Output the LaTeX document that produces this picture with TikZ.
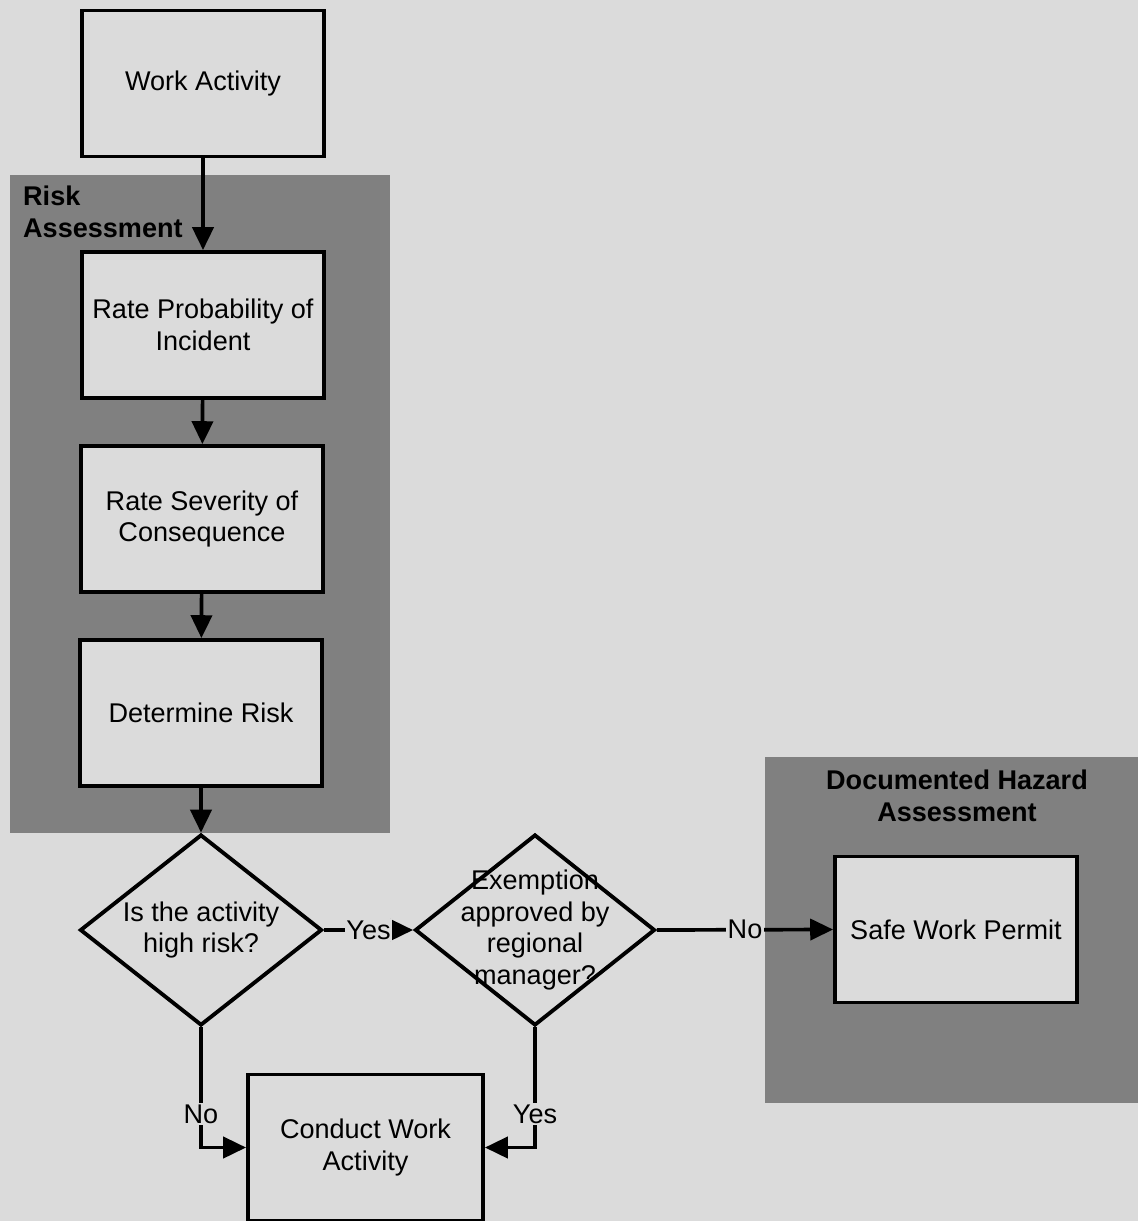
\documentclass[tikz,border=0pt]{standalone}
\usepackage{fontspec}
\setmainfont{Liberation Sans}
\usetikzlibrary{shapes.geometric,arrows.meta}

\definecolor{paper}{gray}{0.86}
\definecolor{panel}{gray}{0.5}

\begin{document}
\begin{tikzpicture}
	\tikzstyle{every node}=[font=\fontsize{15.4}{18}\selectfont]
	\tikzstyle{stepbox}=[draw,rectangle,line width=2.2pt,fill=paper,minimum width=4.84cm,minimum height=2.92cm,align=center]
	\tikzstyle{decision}=[draw,diamond,line width=2.2pt,fill=paper,minimum width=4.84cm,minimum height=3.82cm,inner sep=0pt]
	\tikzstyle{flow}=[line width=2.1pt,-{Triangle[length=13pt,width=12pt]}]
	\tikzstyle{answer}=[fill=paper,inner sep=1pt]
	\tikzstyle{grouptitle}=[font=\fontsize{15.4}{18}\selectfont\bfseries]

	\fill[paper] (0,0) rectangle (22.76,-24.42);
	\useasboundingbox (0,0) rectangle (22.76,-24.42);

	% shaded groups
	\fill[panel] (0.2,-3.5) rectangle (7.8,-16.66);
	\fill[panel] (15.3,-15.14) rectangle (22.76,-22.06);
	\node[grouptitle,anchor=north west,align=left] (risktitle) at (0.34,-3.6) {Risk\\Assessment};
	\node[grouptitle,anchor=north,align=center] (hazardtitle) at (19.14,-15.28) {Documented Hazard\\Assessment};

	% boxes
	\node[stepbox] (work) at (4.06,-1.67) {Work Activity};
	\node[stepbox] (prob) at (4.06,-6.5) {Rate Probability of\\Incident};
	\node[stepbox] (sev) at (4.04,-10.38) {Rate Severity of\\Consequence};
	\node[stepbox] (det) at (4.02,-14.26) {Determine Risk};
	\node[decision,label={[align=center]center:{Is the activity\\high risk?}}] (highrisk) at (4.02,-18.6) {};
	\node[decision,minimum width=4.8cm,label={[align=center]center:{Exemption\\approved by\\regional\\manager?}}] (exempt) at (10.7,-18.6) {};
	\node[stepbox] (permit) at (19.12,-18.59) {Safe Work Permit};
	\node[stepbox,minimum width=4.7cm] (conduct) at (7.31,-22.95) {Conduct Work\\Activity};

	% connectors
	\draw[flow] (work) -- (prob);
	\draw[flow] (prob) -- (sev);
	\draw[flow] (sev) -- (det);
	\draw[flow] (det) -- (highrisk);
	\draw[flow] (highrisk.east) -- node[answer]{Yes} (exempt.west);
	\draw[flow] (exempt.east) -- node[answer]{No} (permit.west);
	\draw[flow] (highrisk.south) |- node[answer,pos=0.36]{No} (conduct.west);
	\draw[flow] (exempt.south) |- node[answer,pos=0.36]{Yes} (conduct.east);

\end{tikzpicture}
\end{document}
